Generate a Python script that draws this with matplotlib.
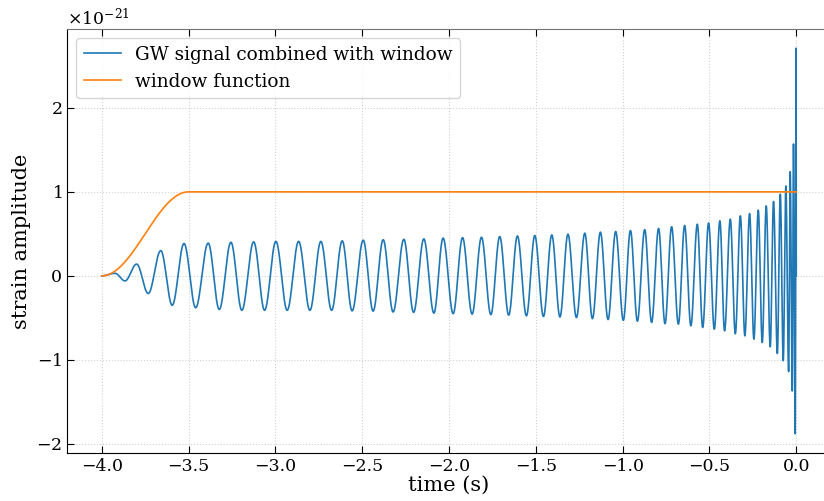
import numpy as np
import matplotlib
matplotlib.use("Agg")
import matplotlib.pyplot as plt
from matplotlib.ticker import ScalarFormatter

plt.rcParams["font.family"] = ["DejaVu Serif"]
plt.rcParams["mathtext.fontset"] = "dejavuserif"

# Strain extrema of the windowed chirp (time in s, strain in units of 1e-21)
t_start, t_end = -4.0, 0.0
peak_times = [
    -3.923, -3.866, -3.799, -3.732, -3.660, -3.594, -3.526, -3.459, -3.387, -3.323,
    -3.256, -3.193, -3.125, -3.062, -2.997, -2.932, -2.866, -2.801, -2.738, -2.676,
    -2.615, -2.558, -2.494, -2.437, -2.379, -2.322, -2.260, -2.204, -2.145, -2.087,
    -2.034, -1.976, -1.922, -1.867, -1.813, -1.759, -1.708, -1.656, -1.606, -1.554,
    -1.506, -1.456, -1.408, -1.361, -1.315, -1.266, -1.218, -1.174, -1.128, -1.084,
    -1.040, -0.996, -0.955, -0.915, -0.873, -0.833, -0.793, -0.756, -0.718, -0.679,
    -0.643, -0.607, -0.570, -0.539, -0.505, -0.472, -0.440, -0.413, -0.380, -0.351,
    -0.322, -0.296, -0.269, -0.244, -0.219, -0.196, -0.173, -0.150, -0.131, -0.109,
    -0.092, -0.075, -0.060, -0.044, -0.035, -0.023, -0.016, -0.006, -0.001,
]
peak_values = [
    0.03, -0.06, 0.14, -0.21, 0.30, -0.35, 0.385, -0.38, 0.39, -0.40,
    0.40, -0.41, 0.405, -0.41, 0.41, -0.41, 0.41, -0.41, 0.41, -0.41,
    0.417, -0.417, 0.425, -0.42, 0.43, -0.43, 0.435, -0.435, 0.44, -0.444,
    0.45, -0.45, 0.455, -0.456, 0.46, -0.462, 0.468, -0.468, 0.475, -0.476,
    0.48, -0.484, 0.487, -0.49, 0.496, -0.496, 0.508, -0.51, 0.52, -0.52,
    0.528, -0.53, 0.54, -0.54, 0.55, -0.555, 0.565, -0.57, 0.585, -0.575,
    0.60, -0.595, 0.615, -0.615, 0.63, -0.635, 0.655, -0.655, 0.675, -0.69,
    0.714, -0.714, 0.742, -0.754, 0.782, -0.794, 0.833, -0.845, 0.885, -0.925,
    0.972, -1.01, 1.07, -1.14, 1.24, -1.37, 1.57, -1.88, 2.71,
]

# Tukey-style taper: rises from 0 to 1 between these times, flat afterwards
taper_start, taper_end = -4.0, -3.5
scale = 1e-21


def smooth_through(tk, vk, n=40):
    """Join consecutive extrema with half-cosine arcs."""
    ts, vs = [tk[0]], [vk[0]]
    for (t0, v0), (t1, v1) in zip(zip(tk[:-1], vk[:-1]), zip(tk[1:], vk[1:])):
        s = np.linspace(0, 1, n)[1:]
        ts.extend(t0 + (t1 - t0) * s)
        vs.extend(v0 + (v1 - v0) * (1 - np.cos(np.pi * s)) / 2)
    return np.array(ts), np.array(vs)


knots_t = [t_start] + peak_times + [t_end]
knots_v = [0.0] + peak_values + [0.0]
sig_t, sig_v = smooth_through(knots_t, knots_v)

win_t = np.linspace(t_start, t_end, 2000)
ramp = np.clip((win_t - taper_start) / (taper_end - taper_start), 0, 1)
win_v = 0.5 * (1 - np.cos(np.pi * ramp))

fig = plt.figure(figsize=(8.24, 5.01), dpi=100)
ax = fig.add_axes([67 / 824, 48 / 501, 764 / 824, 424 / 501])

ax.plot(sig_t, sig_v * scale, color="#1f77b4", lw=1.2,
        label="GW signal combined with window")
ax.plot(win_t, win_v * scale, color="#ff7f0e", lw=1.2, label="window function")
ax.set_xlim(-4.2, 0.2)

ax.set_xlabel("time (s)", fontsize=15, labelpad=1)
ax.set_ylabel("strain amplitude", fontsize=15, labelpad=4)
ax.spines["right"].set_visible(False)
ax.spines["top"].set_color("0.45")
ax.tick_params(direction="in", top=True, right=False, labelsize=12.5, length=5)
ax.xaxis.set_minor_locator(plt.NullLocator())
fmt = ScalarFormatter(useMathText=True)
ax.yaxis.set_major_formatter(fmt)
ax.yaxis.get_offset_text().set_fontsize(12.5)
ax.grid(True, ls=":", color="0.82", lw=0.8)
ax.legend(loc="upper left", fontsize=13.3)

fig.savefig("out.png", dpi=100)
